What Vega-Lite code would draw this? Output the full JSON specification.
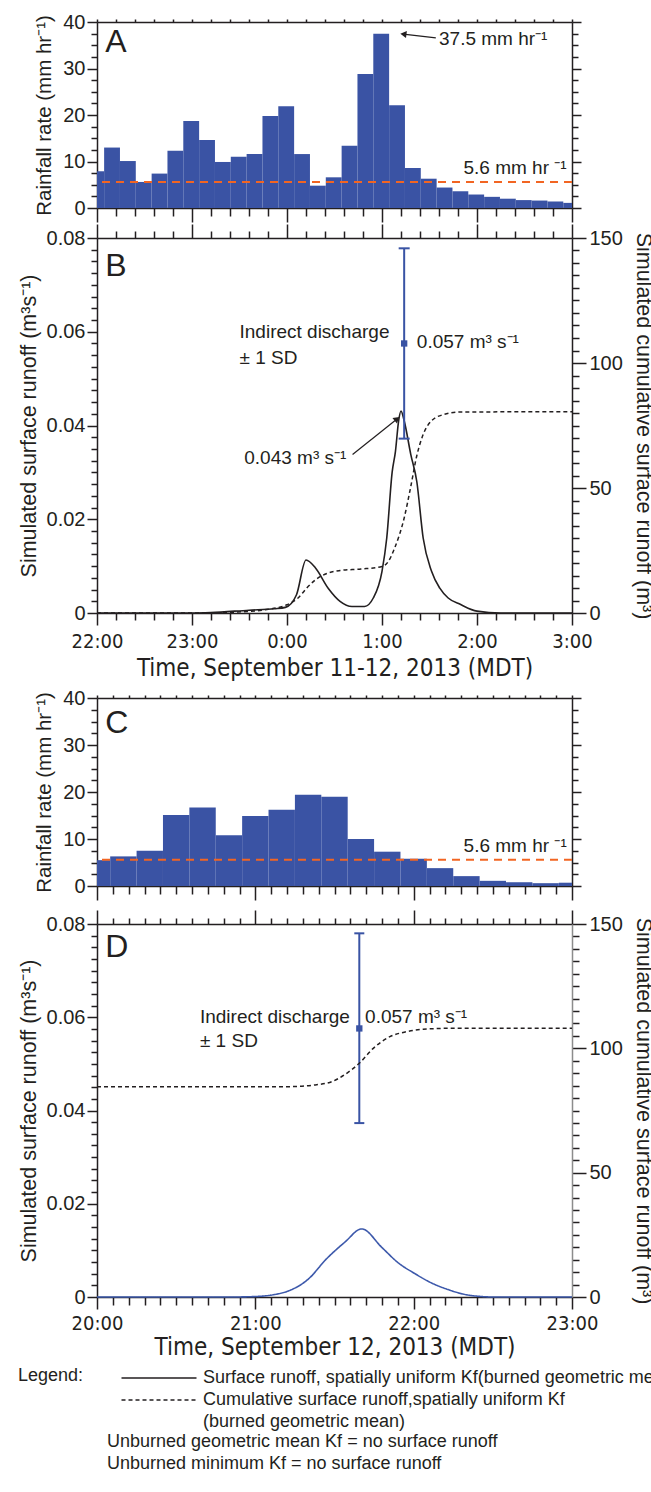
{
  "$schema": "https://vega.github.io/schema/vega-lite/v6.json",
  "background": "white",
  "padding": {"left": 18, "top": 12, "right": 5, "bottom": 5},
  "config": {
    "view": {"stroke": null},
    "font": "Liberation Sans",
    "axis": {"grid": false, "domainColor": "#231f20", "domainWidth": 1.5, "tickColor": "#231f20", "tickWidth": 1.5, "labelColor": "#231f20", "titleColor": "#231f20", "labelFont": "Liberation Sans", "labelFontSize": 20, "titleFont": "Liberation Sans", "titleFontSize": 21, "titleFontWeight": "normal", "labelOverlap": false, "labelBound": false, "labelFlush": false, "tickCount": 200},
    "axisX": {"labelFont": "Liberation Sans Narrow, DejaVu Sans Condensed", "titleFont": "Liberation Sans Narrow, DejaVu Sans Condensed", "titleFontSize": 24},
    "text": {"font": "Liberation Sans", "color": "#231f20"}
  },
  "datasets": {
    "rainA": [
      {"start": 0, "end": 4.5, "rate": 7.9}, {"start": 4.5, "end": 14.5, "rate": 13.0}, {"start": 14.5, "end": 24.5, "rate": 10.1},
      {"start": 24.5, "end": 34.5, "rate": 5.6}, {"start": 34.5, "end": 44.5, "rate": 7.4}, {"start": 44.5, "end": 54.5, "rate": 12.3},
      {"start": 54.5, "end": 64.5, "rate": 18.7}, {"start": 64.5, "end": 74.5, "rate": 14.6}, {"start": 74.5, "end": 84.5, "rate": 9.9},
      {"start": 84.5, "end": 94.5, "rate": 11.0}, {"start": 94.5, "end": 104.5, "rate": 11.6}, {"start": 104.5, "end": 114.5, "rate": 19.8},
      {"start": 114.5, "end": 124.5, "rate": 21.9}, {"start": 124.5, "end": 134.5, "rate": 11.6}, {"start": 134.5, "end": 144.5, "rate": 4.8},
      {"start": 144.5, "end": 154.5, "rate": 6.6}, {"start": 154.5, "end": 164.5, "rate": 13.4}, {"start": 164.5, "end": 174.5, "rate": 28.8},
      {"start": 174.5, "end": 184.5, "rate": 37.5}, {"start": 184.5, "end": 194.5, "rate": 22.1}, {"start": 194.5, "end": 204.5, "rate": 8.6},
      {"start": 204.5, "end": 214.5, "rate": 6.3}, {"start": 214.5, "end": 224.5, "rate": 4.4}, {"start": 224.5, "end": 234.5, "rate": 3.6},
      {"start": 234.5, "end": 244.5, "rate": 2.9}, {"start": 244.5, "end": 254.5, "rate": 2.4}, {"start": 254.5, "end": 264.5, "rate": 2.0},
      {"start": 264.5, "end": 274.5, "rate": 1.7}, {"start": 274.5, "end": 284.5, "rate": 1.6}, {"start": 284.5, "end": 294.5, "rate": 1.4},
      {"start": 294.5, "end": 300, "rate": 1.1}
    ],
    "rainC": [
      {"start": 0, "end": 5, "rate": 5.5}, {"start": 5, "end": 15, "rate": 6.3}, {"start": 15, "end": 25, "rate": 7.5},
      {"start": 25, "end": 35, "rate": 15.1}, {"start": 35, "end": 45, "rate": 16.7}, {"start": 45, "end": 55, "rate": 10.8},
      {"start": 55, "end": 65, "rate": 14.9}, {"start": 65, "end": 75, "rate": 16.2}, {"start": 75, "end": 85, "rate": 19.4},
      {"start": 85, "end": 95, "rate": 19.0}, {"start": 95, "end": 105, "rate": 10.0}, {"start": 105, "end": 115, "rate": 7.3},
      {"start": 115, "end": 125, "rate": 5.8}, {"start": 125, "end": 135, "rate": 3.8}, {"start": 135, "end": 145, "rate": 2.1},
      {"start": 145, "end": 155, "rate": 1.1}, {"start": 155, "end": 165, "rate": 0.8}, {"start": 165, "end": 175, "rate": 0.6},
      {"start": 175, "end": 180, "rate": 0.7}
    ],
    "thrA": [{"rate": 5.6, "t": 296.6, "text": "5.6 mm hr ⁻¹"}],
    "thrC": [{"rate": 5.6, "t": 178, "text": "5.6 mm hr ⁻¹"}],
    "letA": [{"t": 5.2, "v": 35.6, "text": "A"}],
    "letB": [{"t": 5.2, "v": 0.074, "text": "B"}],
    "letC": [{"t": 3.1, "v": 34.7, "text": "C"}],
    "letD": [{"t": 3.1, "v": 0.0751, "text": "D"}],
    "txtA": [{"t": 216, "v": 36.4, "text": "37.5 mm hr⁻¹"}],
    "arrA": [{"t": 214, "v": 36.6, "t2": 193.5, "v2": 37.4}],
    "runB": [
      {"t": 0, "q": 0}, {"t": 60, "q": 0}, {"t": 72, "q": 0.0001}, {"t": 96, "q": 0.0006}, {"t": 112, "q": 0.0009},
      {"t": 119, "q": 0.0012}, {"t": 126, "q": 0.0039}, {"t": 132, "q": 0.0113}, {"t": 138, "q": 0.0096}, {"t": 146, "q": 0.0053},
      {"t": 153.5, "q": 0.0025}, {"t": 161, "q": 0.0014}, {"t": 169, "q": 0.0014}, {"t": 174.5, "q": 0.0032}, {"t": 180, "q": 0.0089},
      {"t": 183, "q": 0.016}, {"t": 186.4, "q": 0.030}, {"t": 188.5, "q": 0.0345}, {"t": 190.5, "q": 0.041}, {"t": 192, "q": 0.0431}, {"t": 194, "q": 0.041}, {"t": 198.2, "q": 0.0338},
      {"t": 202, "q": 0.028}, {"t": 206, "q": 0.016}, {"t": 211.3, "q": 0.0089}, {"t": 216.5, "q": 0.0053}, {"t": 221.8, "q": 0.0032},
      {"t": 229.7, "q": 0.0018}, {"t": 240, "q": 0.0004}, {"t": 255, "q": 0}, {"t": 300, "q": 0}
    ],
    "cumB": [
      {"t": 0, "c": 0}, {"t": 60, "c": 0}, {"t": 85, "c": 0.3}, {"t": 106, "c": 1.3}, {"t": 120, "c": 3.3}, {"t": 127, "c": 6},
      {"t": 132.5, "c": 10}, {"t": 138, "c": 13.3}, {"t": 146, "c": 16}, {"t": 153.5, "c": 17}, {"t": 166.7, "c": 17.6},
      {"t": 180, "c": 18.6}, {"t": 184, "c": 20.6}, {"t": 188, "c": 26}, {"t": 194, "c": 38}, {"t": 198, "c": 50}, {"t": 202, "c": 63},
      {"t": 206, "c": 71.4}, {"t": 211, "c": 76.7}, {"t": 219, "c": 79.4}, {"t": 230, "c": 80.4}, {"t": 300, "c": 80.5}
    ],
    "errB": [{"t": 194, "lo": 0.0372, "mean": 0.0575, "hi": 0.0778}],
    "txtB": [
      {"t": 90, "v": 0.0600, "text": "Indirect discharge"},
      {"t": 90, "v": 0.0545, "text": "± 1 SD"},
      {"t": 202, "v": 0.0579, "text": "0.057 m³ s⁻¹"},
      {"t": 93, "v": 0.0331, "text": "0.043 m³ s⁻¹"}
    ],
    "arrB": [{"t": 161.4, "v": 0.0338, "t2": 189.5, "v2": 0.0414}],
    "runD": [
      {"t": 0, "q": 0}, {"t": 51, "q": 0}, {"t": 60, "q": 0.0001}, {"t": 67, "q": 0.0005}, {"t": 73, "q": 0.0014},
      {"t": 80, "q": 0.0038}, {"t": 87, "q": 0.0082}, {"t": 94, "q": 0.0118}, {"t": 100.3, "q": 0.0146}, {"t": 108, "q": 0.0106},
      {"t": 114, "q": 0.0074}, {"t": 120.5, "q": 0.005}, {"t": 126.8, "q": 0.003}, {"t": 133, "q": 0.0016}, {"t": 139, "q": 0.0006},
      {"t": 145.7, "q": 0.0001}, {"t": 150, "q": 0}, {"t": 180, "q": 0}
    ],
    "cumD": [
      {"t": 0, "c": 84.6}, {"t": 73, "c": 84.6}, {"t": 82.7, "c": 85.3}, {"t": 89, "c": 86.6}, {"t": 93.7, "c": 89.3},
      {"t": 99.4, "c": 94}, {"t": 104.7, "c": 100}, {"t": 111, "c": 104.7}, {"t": 117.3, "c": 106.7}, {"t": 123.6, "c": 107.7},
      {"t": 136, "c": 108.1}, {"t": 180, "c": 108.1}
    ],
    "errD": [{"t": 99.4, "lo": 0.0373, "mean": 0.0576, "hi": 0.078}],
    "txtD": [
      {"t": 39, "v": 0.0600, "text": "Indirect discharge"},
      {"t": 39, "v": 0.0548, "text": "± 1 SD"},
      {"t": 101.6, "v": 0.0600, "text": "0.057 m³ s⁻¹"}
    ]
  },
  "title": {
    "text": ["Unburned geometric mean Kf = no surface runoff", "Unburned minimum Kf  = no surface runoff"],
    "orient": "bottom", "anchor": "start", "frame": "bounds", "fontSize": 18, "fontWeight": "normal",
    "font": "Liberation Sans", "color": "#231f20", "lineHeight": 22, "offset": 2, "dx": 89
  },
  "spacing": 8,
  "vconcat": [
    {
      "spacing": 0,
      "vconcat": [
        {
          "width": 475, "height": 186,
          "resolve": {"scale": {"y": "independent"}, "axis": {"x": "independent"}},
          "layer": [
            {"layer": [
              {"data": {"name": "rainA"}, "mark": {"type": "rect", "color": "#3a53a4"},
               "encoding": {
                 "x": {"field": "start", "type": "quantitative", "scale": {"domain": [0, 300], "nice": false, "zero": false},
                       "axis": {"orient": "bottom", "values": [0,12,24,36,48,60,72,84,96,108,120,132,144,156,168,180,192,204,216,228,240,252,264,276,288,300], "labels": false, "title": null, "tickCount": 200,
                                "tickSize": {"condition": {"test": "datum.value % 60 === 0", "value": 14}, "value": 8}}},
                 "x2": {"field": "end"},
                 "y": {"field": "rate", "type": "quantitative", "scale": {"domain": [0, 40], "nice": false},
                       "axis": {"orient": "left", "values": [0,2.5,5,7.5,10,12.5,15,17.5,20,22.5,25,27.5,30,32.5,35,37.5,40], "format": "d", "title": "Rainfall rate (mm hr⁻¹)", "titleFontSize": 20.5, "titlePadding": 8, "labelPadding": 2, "tickCount": 200, "labelOverlap": false,
                                "labelExpr": "datum.value % 10 === 0 ? datum.label : ''",
                                "tickSize": {"condition": {"test": "datum.value % 10 === 0", "value": 10}, "value": 6}}},
                 "y2": {"datum": 0}
               }},
              {"data": {"name": "letA"}, "mark": {"type": "text", "fontSize": 32, "align": "left", "baseline": "middle"},
               "encoding": {"x": {"field": "t", "type": "quantitative"}, "y": {"field": "v", "type": "quantitative"}, "text": {"field": "text"}}},
              {"data": {"name": "arrA"}, "mark": {"type": "rule", "color": "#231f20", "strokeWidth": 1.2},
               "encoding": {"x": {"field": "t", "type": "quantitative"}, "x2": {"field": "t2"}, "y": {"field": "v", "type": "quantitative"}, "y2": {"field": "v2"}}},
              {"data": {"name": "arrA"}, "mark": {"type": "point", "shape": "triangle-left", "filled": true, "size": 50, "color": "#231f20", "opacity": 1, "angle": 7},
               "encoding": {"x": {"field": "t2", "type": "quantitative"}, "y": {"field": "v2", "type": "quantitative"}}},
              {"data": {"name": "txtA"}, "mark": {"type": "text", "fontSize": 19, "align": "left", "baseline": "middle"},
               "encoding": {"x": {"field": "t", "type": "quantitative"}, "y": {"field": "v", "type": "quantitative"}, "text": {"field": "text"}}}
            ]},
            {"layer": [
              {"data": {"name": "thrA"}, "mark": {"type": "rule", "color": "#f26522", "strokeWidth": 2, "strokeDash": [8, 6]},
               "encoding": {"y": {"field": "rate", "type": "quantitative", "scale": {"domain": [0, 40], "nice": false},
                                  "axis": {"orient": "right", "values": [0,2.5,5,7.5,10,12.5,15,17.5,20,22.5,25,27.5,30,32.5,35,37.5,40], "labels": false, "title": null, "tickCount": 200,
                                           "tickSize": {"condition": {"test": "datum.value % 10 === 0", "value": 9}, "value": 6}}}}},
              {"data": {"name": "thrA"}, "mark": {"type": "text", "fontSize": 19, "align": "right", "baseline": "bottom", "dy": -4},
               "encoding": {"x": {"field": "t", "type": "quantitative", "axis": {"orient": "top", "values": [0,12,24,36,48,60,72,84,96,108,120,132,144,156,168,180,192,204,216,228,240,252,264,276,288,300], "labels": false, "title": null, "tickSize": 3, "tickCount": 200}},
                            "y": {"field": "rate", "type": "quantitative"}, "text": {"field": "text"}}}
            ]}
          ]
        },
        {
          "width": 475, "height": 375,
          "resolve": {"scale": {"y": "independent"}, "axis": {"x": "independent"}},
          "layer": [
            {"layer": [
              {"data": {"name": "runB"}, "mark": {"type": "line", "color": "#231f20", "strokeWidth": 1.6, "interpolate": "monotone"},
               "encoding": {
                 "x": {"field": "t", "type": "quantitative", "scale": {"domain": [0, 300], "nice": false, "zero": false},
                       "axis": {"orient": "bottom", "values": [0,12,24,36,48,60,72,84,96,108,120,132,144,156,168,180,192,204,216,228,240,252,264,276,288,300], "tickCount": 200, "labelOverlap": false,
                                "labelExpr": "datum.value % 60 === 0 ? ((22 + datum.value / 60) % 24) + ':00' : ''",
                                "labelPadding": 6, "title": "Time, September 11-12, 2013 (MDT)", "titlePadding": 5,
                                "tickSize": {"condition": {"test": "datum.value % 60 === 0", "value": 12}, "value": 7}}},
                 "y": {"field": "q", "type": "quantitative", "scale": {"domain": [0, 0.08], "nice": false},
                       "axis": {"orient": "left", "values": [0,0.0025,0.005,0.0075,0.01,0.0125,0.015,0.0175,0.02,0.0225,0.025,0.0275,0.03,0.0325,0.035,0.0375,0.04,0.0425,0.045,0.0475,0.05,0.0525,0.055,0.0575,0.06,0.0625,0.065,0.0675,0.07,0.0725,0.075,0.0775,0.08],
                                "tickCount": 200, "labelOverlap": false,
                                "format": ".2~f", "title": "Simulated surface runoff (m³s⁻¹)", "titleFontSize": 21.5, "titlePadding": 6, "labelPadding": 2,
                                "labelExpr": "abs(datum.value * 50 - round(datum.value * 50)) < 0.001 ? datum.label : ''",
                                "tickSize": {"condition": {"test": "abs(datum.value * 50 - round(datum.value * 50)) < 0.001", "value": 10}, "value": 6}}}
               }},
              {"data": {"name": "errB"}, "mark": {"type": "rule", "color": "#3953a4", "strokeWidth": 2},
               "encoding": {"x": {"field": "t", "type": "quantitative"}, "y": {"field": "lo", "type": "quantitative"}, "y2": {"field": "hi"}}},
              {"data": {"name": "errB"}, "mark": {"type": "point", "shape": "M -1 0 L 1 0", "size": 121, "filled": false, "strokeWidth": 2, "color": "#3953a4", "opacity": 1},
               "encoding": {"x": {"field": "t", "type": "quantitative"}, "y": {"field": "lo", "type": "quantitative"}}},
              {"data": {"name": "errB"}, "mark": {"type": "point", "shape": "M -1 0 L 1 0", "size": 121, "filled": false, "strokeWidth": 2, "color": "#3953a4", "opacity": 1},
               "encoding": {"x": {"field": "t", "type": "quantitative"}, "y": {"field": "hi", "type": "quantitative"}}},
              {"data": {"name": "errB"}, "mark": {"type": "point", "shape": "square", "size": 40, "filled": true, "color": "#3953a4", "opacity": 1},
               "encoding": {"x": {"field": "t", "type": "quantitative"}, "y": {"field": "mean", "type": "quantitative"}}},
              {"data": {"name": "letB"}, "mark": {"type": "text", "fontSize": 32, "align": "left", "baseline": "middle"},
               "encoding": {"x": {"field": "t", "type": "quantitative"}, "y": {"field": "v", "type": "quantitative"}, "text": {"field": "text"}}},
              {"data": {"name": "txtB"}, "mark": {"type": "text", "fontSize": 19, "align": "left", "baseline": "middle"},
               "encoding": {"x": {"field": "t", "type": "quantitative"}, "y": {"field": "v", "type": "quantitative"}, "text": {"field": "text"}}},
              {"data": {"name": "arrB"}, "mark": {"type": "rule", "color": "#231f20", "strokeWidth": 1.2},
               "encoding": {"x": {"field": "t", "type": "quantitative"}, "x2": {"field": "t2"}, "y": {"field": "v", "type": "quantitative"}, "y2": {"field": "v2"}}},
              {"data": {"name": "arrB"}, "mark": {"type": "point", "shape": "triangle-right", "filled": true, "size": 50, "color": "#231f20", "opacity": 1, "angle": -39},
               "encoding": {"x": {"field": "t2", "type": "quantitative"}, "y": {"field": "v2", "type": "quantitative"}}}
            ]},
            {"layer": [
              {"data": {"name": "cumB"}, "mark": {"type": "line", "color": "#231f20", "strokeWidth": 1.5, "strokeDash": [4, 3], "interpolate": "monotone"},
               "encoding": {
                 "x": {"field": "t", "type": "quantitative",
                       "axis": {"orient": "top", "values": [0,12,24,36,48,60,72,84,96,108,120,132,144,156,168,180,192,204,216,228,240,252,264,276,288,300], "labels": false, "title": null, "tickCount": 200,
                                "tickSize": {"condition": {"test": "datum.value % 60 === 0", "value": 14}, "value": 7}}},
                 "y": {"field": "c", "type": "quantitative", "scale": {"domain": [0, 150], "nice": false},
                       "axis": {"orient": "right", "values": [0,5,10,15,20,25,30,35,40,45,50,55,60,65,70,75,80,85,90,95,100,105,110,115,120,125,130,135,140,145,150],
                                "tickCount": 200, "labelOverlap": false,
                                "title": "Simulated cumulative surface runoff (m³)", "titleFontSize": 21.5, "titlePadding": 9, "labelPadding": 3,
                                "labelExpr": "datum.value % 50 === 0 ? datum.label : ''",
                                "tickSize": {"condition": {"test": "datum.value % 50 === 0", "value": 14}, "value": 7}}}
               }}
            ]}
          ]
        }
      ]
    },
    {
      "spacing": 8,
      "vconcat": [
        {
          "width": 475, "height": 188,
          "resolve": {"scale": {"y": "independent"}, "axis": {"x": "independent"}},
          "layer": [
            {"layer": [
              {"data": {"name": "rainC"}, "mark": {"type": "rect", "color": "#3a53a4"},
               "encoding": {
                 "x": {"field": "start", "type": "quantitative", "scale": {"domain": [0, 180], "nice": false, "zero": false},
                       "axis": {"orient": "bottom", "values": [0,6,12,18,24,30,36,42,48,54,60,66,72,78,84,90,96,102,108,114,120,126,132,138,144,150,156,162,168,174,180], "labels": false, "title": null, "tickCount": 200,
                                "tickSize": {"condition": {"test": "datum.value % 60 === 0", "value": 14}, "value": 8}}},
                 "x2": {"field": "end"},
                 "y": {"field": "rate", "type": "quantitative", "scale": {"domain": [0, 40], "nice": false},
                       "axis": {"orient": "left", "values": [0,2.5,5,7.5,10,12.5,15,17.5,20,22.5,25,27.5,30,32.5,35,37.5,40], "format": "d", "title": "Rainfall rate (mm hr⁻¹)", "titleFontSize": 20.5, "titlePadding": 8, "labelPadding": 2, "tickCount": 200, "labelOverlap": false,
                                "labelExpr": "datum.value % 10 === 0 ? datum.label : ''",
                                "tickSize": {"condition": {"test": "datum.value % 10 === 0", "value": 10}, "value": 6}}},
                 "y2": {"datum": 0}
               }},
              {"data": {"name": "letC"}, "mark": {"type": "text", "fontSize": 32, "align": "left", "baseline": "middle"},
               "encoding": {"x": {"field": "t", "type": "quantitative"}, "y": {"field": "v", "type": "quantitative"}, "text": {"field": "text"}}}
            ]},
            {"layer": [
              {"data": {"name": "thrC"}, "mark": {"type": "rule", "color": "#f26522", "strokeWidth": 2, "strokeDash": [8, 6]},
               "encoding": {"y": {"field": "rate", "type": "quantitative", "scale": {"domain": [0, 40], "nice": false},
                                  "axis": {"orient": "right", "values": [0,2.5,5,7.5,10,12.5,15,17.5,20,22.5,25,27.5,30,32.5,35,37.5,40], "labels": false, "title": null, "tickCount": 200,
                                           "tickSize": {"condition": {"test": "datum.value % 10 === 0", "value": 9}, "value": 6}}}}},
              {"data": {"name": "thrC"}, "mark": {"type": "text", "fontSize": 19, "align": "right", "baseline": "bottom", "dy": -4},
               "encoding": {"x": {"field": "t", "type": "quantitative", "axis": {"orient": "top", "values": [0,6,12,18,24,30,36,42,48,54,60,66,72,78,84,90,96,102,108,114,120,126,132,138,144,150,156,162,168,174,180], "labels": false, "title": null, "tickSize": 3, "tickCount": 200}},
                            "y": {"field": "rate", "type": "quantitative"}, "text": {"field": "text"}}}
            ]}
          ]
        },
        {
          "width": 475, "height": 373,
          "resolve": {"scale": {"y": "independent"}, "axis": {"x": "independent"}},
          "layer": [
            {"layer": [
              {"data": {"name": "runD"}, "mark": {"type": "line", "color": "#3d59ab", "strokeWidth": 1.6, "interpolate": "monotone"},
               "encoding": {
                 "x": {"field": "t", "type": "quantitative", "scale": {"domain": [0, 180], "nice": false, "zero": false},
                       "axis": {"orient": "bottom", "values": [0,6,12,18,24,30,36,42,48,54,60,66,72,78,84,90,96,102,108,114,120,126,132,138,144,150,156,162,168,174,180], "tickCount": 200, "labelOverlap": false,
                                "labelExpr": "datum.value % 60 === 0 ? (20 + datum.value / 60) + ':00' : ''",
                                "labelPadding": 4, "title": "Time, September 12, 2013 (MDT)", "titlePadding": 2,
                                "tickSize": {"condition": {"test": "datum.value % 60 === 0", "value": 12}, "value": 8}}},
                 "y": {"field": "q", "type": "quantitative", "scale": {"domain": [0, 0.08], "nice": false},
                       "axis": {"orient": "left", "values": [0,0.0025,0.005,0.0075,0.01,0.0125,0.015,0.0175,0.02,0.0225,0.025,0.0275,0.03,0.0325,0.035,0.0375,0.04,0.0425,0.045,0.0475,0.05,0.0525,0.055,0.0575,0.06,0.0625,0.065,0.0675,0.07,0.0725,0.075,0.0775,0.08],
                                "tickCount": 200, "labelOverlap": false,
                                "format": ".2~f", "title": "Simulated surface runoff (m³s⁻¹)", "titleFontSize": 21.5, "titlePadding": 6, "labelPadding": 2,
                                "labelExpr": "abs(datum.value * 50 - round(datum.value * 50)) < 0.001 ? datum.label : ''",
                                "tickSize": {"condition": {"test": "abs(datum.value * 50 - round(datum.value * 50)) < 0.001", "value": 10}, "value": 6}}},
                 "strokeDash": {"datum": "Surface runoff, spatially uniform Kf(burned geometric mean)", "type": "nominal",
                                "scale": {"domain": ["Surface runoff, spatially uniform Kf(burned geometric mean)", "Cumulative surface runoff,spatially uniform Kf", "(burned geometric mean)"], "range": [[1, 0], [4, 3], [0, 100]]},
                                "legend": {"orient": "none", "legendX": -79, "legendY": 1345, "title": "Legend:", "titleOrient": "left", "titleAnchor": "start", "titleFontSize": 18, "titleFontWeight": "normal", "titleColor": "#231f20", "titlePadding": 64, "titleFont": "Liberation Sans",
                                           "labelFontSize": 18, "labelColor": "#231f20", "labelFont": "Liberation Sans", "labelLimit": 1000, "symbolType": "M -3.75 0 L 3.75 0", "symbolSize": 400, "symbolStrokeWidth": 1.5, "symbolStrokeColor": "#231f20",
                                           "rowPadding": 2, "labelOffset": 33, "direction": "vertical",
                                           "encode": {"symbols": {"update": {"stroke": {"value": "#231f20"}}}}}}
               }},
              {"data": {"name": "errD"}, "mark": {"type": "rule", "color": "#3953a4", "strokeWidth": 2},
               "encoding": {"x": {"field": "t", "type": "quantitative"}, "y": {"field": "lo", "type": "quantitative"}, "y2": {"field": "hi"}}},
              {"data": {"name": "errD"}, "mark": {"type": "point", "shape": "M -1 0 L 1 0", "size": 100, "filled": false, "strokeWidth": 2, "color": "#3953a4", "opacity": 1},
               "encoding": {"x": {"field": "t", "type": "quantitative"}, "y": {"field": "lo", "type": "quantitative"}}},
              {"data": {"name": "errD"}, "mark": {"type": "point", "shape": "M -1 0 L 1 0", "size": 100, "filled": false, "strokeWidth": 2, "color": "#3953a4", "opacity": 1},
               "encoding": {"x": {"field": "t", "type": "quantitative"}, "y": {"field": "hi", "type": "quantitative"}}},
              {"data": {"name": "errD"}, "mark": {"type": "point", "shape": "square", "size": 40, "filled": true, "color": "#3953a4", "opacity": 1},
               "encoding": {"x": {"field": "t", "type": "quantitative"}, "y": {"field": "mean", "type": "quantitative"}}},
              {"data": {"name": "letD"}, "mark": {"type": "text", "fontSize": 32, "align": "left", "baseline": "middle"},
               "encoding": {"x": {"field": "t", "type": "quantitative"}, "y": {"field": "v", "type": "quantitative"}, "text": {"field": "text"}}},
              {"data": {"name": "txtD"}, "mark": {"type": "text", "fontSize": 19, "align": "left", "baseline": "middle"},
               "encoding": {"x": {"field": "t", "type": "quantitative"}, "y": {"field": "v", "type": "quantitative"}, "text": {"field": "text"}}}
            ]},
            {"layer": [
              {"data": {"name": "cumD"}, "mark": {"type": "line", "color": "#231f20", "strokeWidth": 1.5, "interpolate": "monotone"},
               "encoding": {
                 "x": {"field": "t", "type": "quantitative",
                       "axis": {"orient": "top", "values": [0,6,12,18,24,30,36,42,48,54,60,66,72,78,84,90,96,102,108,114,120,126,132,138,144,150,156,162,168,174,180], "labels": false, "title": null, "tickCount": 200,
                                "tickSize": {"condition": {"test": "datum.value % 60 === 0", "value": 14}, "value": 6}}},
                 "y": {"field": "c", "type": "quantitative", "scale": {"domain": [0, 150], "nice": false},
                       "axis": {"orient": "right", "values": [0,5,10,15,20,25,30,35,40,45,50,55,60,65,70,75,80,85,90,95,100,105,110,115,120,125,130,135,140,145,150],
                                "tickCount": 200, "labelOverlap": false, "domainColor": "#8c8c8c",
                                "title": "Simulated cumulative surface runoff (m³)", "titleFontSize": 21.5, "titlePadding": 9, "labelPadding": 3,
                                "labelExpr": "datum.value % 50 === 0 ? datum.label : ''",
                                "tickSize": {"condition": {"test": "datum.value % 50 === 0", "value": 14}, "value": 7}}},
                 "strokeDash": {"datum": "Cumulative surface runoff,spatially uniform Kf", "type": "nominal"}
               }}
            ]}
          ]
        }
      ]
    }
  ]
}
